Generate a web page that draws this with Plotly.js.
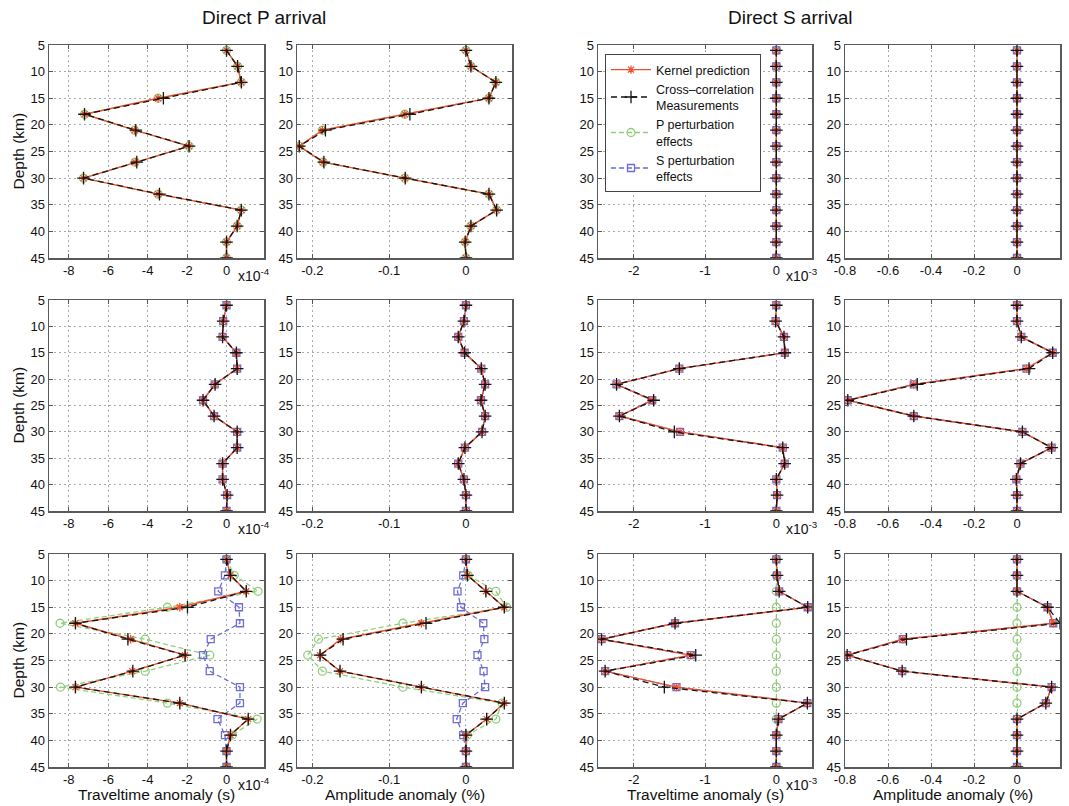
<!DOCTYPE html>
<html><head><meta charset="utf-8">
<script src="https://cdn.plot.ly/plotly-3.0.1.min.js"></script>
<style>html,body{margin:0;padding:0;background:#fff}</style>
</head><body><div id="chart" style="width:1069px;height:806px"></div>
<script>
// Depth of perturbation (km)
const depth = [6,9,12,15,18,21,24,27,30,33,36,39,42,45];

// ---- Row 1: P-velocity perturbation only ----
// Direct P travel-time anomaly (x1e-4 s)
const pTT_r1_kernel = [0,0.56,0.75,-3.47,-7.2,-4.66,-1.9,-4.63,-7.25,-3.47,0.75,0.54,0,0];
const pTT_r1_cc     = [0,0.56,0.75,-3.2,-7.2,-4.6,-1.9,-4.55,-7.25,-3.4,0.75,0.54,0,0];
const pTT_r1_P      = [0,0.56,0.75,-3.47,-7.2,-4.66,-1.9,-4.63,-7.25,-3.47,0.75,0.54,0,0];
// Direct P amplitude anomaly (%)
const pAmp_r1_kernel = [0,0.0065,0.039,0.030,-0.0796,-0.187,-0.217,-0.186,-0.0796,0.030,0.040,0.0065,-0.001,0];
const pAmp_r1_cc     = [0,0.0065,0.039,0.030,-0.073,-0.183,-0.217,-0.185,-0.079,0.030,0.040,0.0065,-0.001,0];
const pAmp_r1_P      = [0,0.0065,0.039,0.030,-0.0796,-0.187,-0.217,-0.186,-0.0796,0.030,0.040,0.0065,-0.001,0];
// Direct S travel-time (x1e-3 s) and amplitude (%)
const sTT_r1_all  = [0,0,0,0,0,0,0,0,0,0,0,0,0,0];
const sAmp_r1_all = [0,0,0,0,0,0,0,0,0,0,0,0,0,0];

// ---- Row 2: S-velocity perturbation only ----
const pTT_r2_kernel = [0,-0.17,-0.2,0.5,0.54,-0.6,-1.19,-0.63,0.54,0.54,-0.2,-0.2,0.03,0];
const pTT_r2_cc     = [0,-0.17,-0.2,0.5,0.54,-0.58,-1.19,-0.63,0.54,0.54,-0.2,-0.2,0.03,0];
const pTT_r2_S      = [0,-0.17,-0.2,0.5,0.54,-0.6,-1.19,-0.63,0.54,0.54,-0.2,-0.2,0.03,0];
const pAmp_r2_kernel = [0,-0.0026,-0.010,-0.0017,0.020,0.025,0.0196,0.025,0.021,-0.0013,-0.010,-0.0026,0,0];
const pAmp_r2_cc     = [0,-0.0026,-0.010,-0.0017,0.020,0.025,0.0196,0.025,0.021,-0.0013,-0.010,-0.0026,0,0];
const pAmp_r2_S      = [0,-0.0026,-0.010,-0.0017,0.020,0.025,0.0196,0.025,0.021,-0.0013,-0.010,-0.0026,0,0];
const sTT_r2_kernel = [0,-0.01,0.107,0.12,-1.36,-2.24,-1.74,-2.2,-1.35,0.09,0.117,0,0.01,0];
const sTT_r2_cc     = [0,-0.01,0.107,0.12,-1.36,-2.24,-1.72,-2.2,-1.43,0.09,0.117,0,0.01,0];
const sTT_r2_S      = [0,-0.01,0.107,0.12,-1.36,-2.24,-1.74,-2.2,-1.35,0.09,0.117,0,0.01,0];
const sAmp_r2_kernel = [0,0,0.02,0.166,0.044,-0.48,-0.787,-0.48,0.025,0.161,0.016,-0.003,0,0];
const sAmp_r2_cc     = [0,0,0.02,0.166,0.056,-0.464,-0.787,-0.48,0.025,0.161,0.016,-0.003,0,0];
const sAmp_r2_S      = [0,0,0.02,0.166,0.044,-0.48,-0.787,-0.48,0.025,0.161,0.016,-0.003,0,0];

// ---- Row 3: both P and S perturbations ----
const pTT_r3_kernel = [0,0.2,1.0,-2.37,-7.66,-4.86,-2.1,-4.78,-7.66,-2.37,1.1,0.2,0,0];
const pTT_r3_cc     = [0,0.2,1.0,-1.98,-7.66,-5.0,-2.1,-4.75,-7.66,-2.37,1.1,0.2,0,0];
const pTT_r3_P      = [0,0.39,1.6,-3.0,-8.44,-4.12,-0.85,-4.12,-8.42,-3.0,1.55,0.29,0,0];
const pTT_r3_S      = [0,-0.08,-0.42,0.63,0.68,-0.8,-1.19,-0.85,0.68,0.68,-0.46,-0.08,0,0];
const pAmp_r3_kernel = [0,0.002,0.026,0.05,-0.058,-0.163,-0.19,-0.164,-0.058,0.05,0.027,0,0,0];
const pAmp_r3_cc     = [0,0.002,0.026,0.05,-0.052,-0.16,-0.19,-0.164,-0.058,0.05,0.027,0,0,0];
const pAmp_r3_P      = [0,0.003,0.039,0.053,-0.082,-0.192,-0.206,-0.187,-0.082,0.047,0.039,0.002,0,0];
const pAmp_r3_S      = [0,-0.0035,-0.011,-0.0065,0.0226,0.024,0.015,0.023,0.025,-0.004,-0.012,-0.0035,0,0];
const sTT_r3_kernel = [0,0.01,0.04,0.44,-1.42,-2.45,-1.2,-2.4,-1.4,0.435,0.03,0,0,0];
const sTT_r3_cc     = [0,0.01,0.04,0.44,-1.42,-2.45,-1.13,-2.4,-1.57,0.435,0.03,0,0,0];
const sTT_r3_P      = [0,0,0,0,0,0,0,0,0,0,0,0,0,0];
const sTT_r3_S      = [0,0.01,0.04,0.44,-1.42,-2.45,-1.2,-2.4,-1.4,0.435,0.03,0,0,0];
const sAmp_r3_kernel = [0,0,0,0.142,0.169,-0.531,-0.79,-0.534,0.161,0.134,0,0,0,0];
const sAmp_r3_cc     = [0,0,0,0.142,0.2,-0.514,-0.79,-0.534,0.161,0.134,0,0,0,0];
const sAmp_r3_P      = [0,0,0,0,0,0,0,0,0,0,0,0,0,0];
const sAmp_r3_S      = [0,0,0,0.142,0.169,-0.531,-0.79,-0.534,0.161,0.134,0,0,0,0];

const panels = [
  {k:pTT_r1_kernel, c:pTT_r1_cc, p:pTT_r1_P, s:null},
  {k:pAmp_r1_kernel, c:pAmp_r1_cc, p:pAmp_r1_P, s:null},
  {k:sTT_r1_all, c:sTT_r1_all, p:sTT_r1_all, s:sTT_r1_all},
  {k:sAmp_r1_all, c:sAmp_r1_all, p:sAmp_r1_all, s:sAmp_r1_all},
  {k:pTT_r2_kernel, c:pTT_r2_cc, p:null, s:pTT_r2_S},
  {k:pAmp_r2_kernel, c:pAmp_r2_cc, p:null, s:pAmp_r2_S},
  {k:sTT_r2_kernel, c:sTT_r2_cc, p:null, s:sTT_r2_S},
  {k:sAmp_r2_kernel, c:sAmp_r2_cc, p:null, s:sAmp_r2_S},
  {k:pTT_r3_kernel, c:pTT_r3_cc, p:pTT_r3_P, s:pTT_r3_S},
  {k:pAmp_r3_kernel, c:pAmp_r3_cc, p:pAmp_r3_P, s:pAmp_r3_S},
  {k:sTT_r3_kernel, c:sTT_r3_cc, p:sTT_r3_P, s:sTT_r3_S},
  {k:sAmp_r3_kernel, c:sAmp_r3_cc, p:sAmp_r3_P, s:sAmp_r3_S}
];

const legendNames = ['Kernel prediction','Cross–correlation<br>Measurements','P perturbation<br>effects','S perturbation<br>effects'];
const depthTicks = [5,10,15,20,25,30,35,40,45];
const xTickVals = [[-8,-6,-4,-2,0],[-0.2,-0.1,0],[-2,-1,0],[-0.8,-0.6,-0.4,-0.2,0,0.2]];
const xTickText = [['-8','-6','-4','-2','0'],['-0.2','-0.1','0'],['-2','-1','0'],['-0.8','-0.6','-0.4','-0.2','0','0.2']];
const xRanges = [[-9,1.9],[-0.22,0.06],[-2.5,0.5],[-0.8,0.2]];
const xTitles = ['Traveltime anomaly (s)','Amplitude anomaly (%)','Traveltime anomaly (s)','Amplitude anomaly (%)'];
const exponents = ['x10<sup>-4</sup>',null,'x10<sup>-3</sup>',null];

const W=1069, H=806;
const colPx=[[49,264],[297,512],[598,812],[845,1060]];
const rowPx=[[45,258],[300,511],[554,767]];
const FONT = 'Liberation Sans, Arial, Helvetica, sans-serif';

const C = {k:'#f0502a', c:'#151515', p:'#8fcf7c', s:'#6c6cd6'};
const data=[];
const layout = {
  width:W, height:H, margin:{l:0,r:0,t:0,b:0}, paper_bgcolor:'#fff', plot_bgcolor:'#fff',
  font:{family:FONT, size:13, color:'#222'},
  showlegend:true,
  legend:{x:605/W, y:1-54/H, xanchor:'left', yanchor:'top', bgcolor:'#fff', bordercolor:'#444', borderwidth:1,
          font:{family:FONT,size:12.5,color:'#111'}, tracegroupgap:0, itemwidth:40, valign:'middle'},
  annotations:[]
};

panels.forEach((pn,i)=>{
  const r=Math.floor(i/4), c=i%4, n=i+1;
  const xa = n===1?'x':'x'+n, ya = n===1?'y':'y'+n;
  const xk = n===1?'xaxis':'xaxis'+n, yk = n===1?'yaxis':'yaxis'+n;
  layout[xk] = {domain:[colPx[c][0]/W, colPx[c][1]/W], anchor:ya, range:xRanges[c],
    tickvals:xTickVals[c], ticktext:xTickText[c], ticks:'inside', ticklen:4, tickcolor:'#555',
    showline:true, mirror:'ticks', linecolor:'#5a5a5a', linewidth:1.5,
    showgrid:true, gridcolor:'#aaaaaa', griddash:'2px,3px', gridwidth:1, zeroline:false,
    tickfont:{family:FONT,size:13,color:'#111'}, fixedrange:true};
  layout[yk] = {domain:[1-rowPx[r][1]/H, 1-rowPx[r][0]/H], anchor:xa, range:[45,5],
    tickvals:depthTicks, ticks:'inside', ticklen:4, tickcolor:'#555',
    showline:true, mirror:'ticks', linecolor:'#5a5a5a', linewidth:1.5,
    showgrid:true, gridcolor:'#aaaaaa', griddash:'2px,3px', gridwidth:1, zeroline:false,
    tickfont:{family:FONT,size:13,color:'#111'}, fixedrange:true};
  const showLeg = (i===8);
  if(pn.p) data.push({x:pn.p, y:depth, xaxis:xa, yaxis:ya, mode:'lines+markers', name:legendNames[2], legendrank:3,
     showlegend:showLeg, line:{color:C.p, width:1.3, dash:'5px,3px'},
     marker:{symbol:'circle-open', size:8, color:C.p, line:{width:1.3, color:C.p}}});
  if(pn.s) data.push({x:pn.s, y:depth, xaxis:xa, yaxis:ya, mode:'lines+markers', name:legendNames[3], legendrank:4,
     showlegend:showLeg, line:{color:C.s, width:1.3, dash:'5px,3px'},
     marker:{symbol:'square-open', size:7, color:C.s, line:{width:1.3, color:C.s}}});
  data.push({x:pn.k, y:depth, xaxis:xa, yaxis:ya, mode:'lines+markers', name:legendNames[0], legendrank:1,
     showlegend:showLeg, line:{color:C.k, width:1.4},
     marker:{symbol:'asterisk-open', size:7, color:C.k, line:{width:1.3, color:C.k}}});
  data.push({x:pn.c, y:depth, xaxis:xa, yaxis:ya, mode:'lines+markers', name:legendNames[1], legendrank:2,
     showlegend:showLeg, line:{color:C.c, width:1.3, dash:'6px,4px'},
     marker:{symbol:'cross-thin-open', size:9, color:C.c, line:{width:1.3, color:C.c}}});
  if(exponents[c]) layout.annotations.push({xref:'paper', yref:'paper', x:(colPx[c][1]-28)/W, y:1-(rowPx[r][1]+17)/H,
     xanchor:'left', yanchor:'middle', text:exponents[c], showarrow:false, font:{family:FONT,size:14,color:'#111'}});
  if(r===2) layout.annotations.push({xref:'paper', yref:'paper', x:(colPx[c][0]+colPx[c][1])/2/W, y:1-794/H,
     xanchor:'center', yanchor:'middle', text:xTitles[c], showarrow:false, font:{family:FONT,size:15.5,color:'#111'}});
  if(c===0) layout.annotations.push({xref:'paper', yref:'paper', x:18/W, y:1-(rowPx[r][0]+rowPx[r][1])/2/H,
     xanchor:'center', yanchor:'middle', textangle:-90, text:'Depth (km)', showarrow:false, font:{family:FONT,size:15.5,color:'#111'}});
});

layout.annotations.push({xref:'paper', yref:'paper', x:264/W, y:1-18/H, xanchor:'center', yanchor:'middle',
  text:'Direct P arrival', showarrow:false, font:{family:FONT,size:19,color:'#111'}});
layout.annotations.push({xref:'paper', yref:'paper', x:790/W, y:1-18/H, xanchor:'center', yanchor:'middle',
  text:'Direct S arrival', showarrow:false, font:{family:FONT,size:19,color:'#111'}});

Plotly.newPlot('chart', data, layout, {staticPlot:true, displayModeBar:false});
</script></body></html>
